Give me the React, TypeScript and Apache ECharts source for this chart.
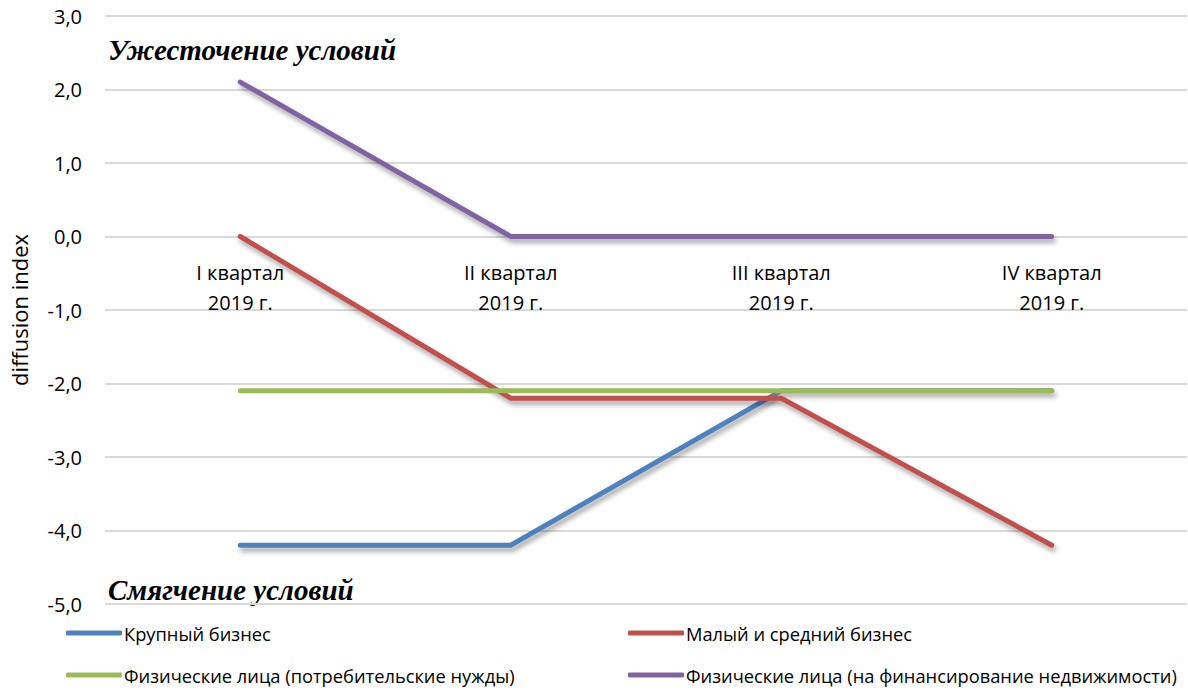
import React, { useEffect, useRef } from "react";
import * as echarts from "echarts";

const categories = ["I квартал\n2019 г.", "II квартал\n2019 г.", "III квартал\n2019 г.", "IV квартал\n2019 г."];
const seriesNames = [
  "Крупный бизнес",
  "Малый и средний бизнес",
  "Физические лица (потребительские нужды)",
  "Физические лица (на финансирование недвижимости)",
];
const largeBusiness = [-4.2, -4.2, -2.1, -2.1];
const smeBusiness = [0, -2.2, -2.2, -4.2];
const consumer = [-2.1, -2.1, -2.1, -2.1];
const realEstate = [2.1, 0, 0, 0];
const colors = ["#4F81BD", "#C0504D", "#9BBB59", "#8064A2"];
const yTicks = { min: -5, max: 3, interval: 1 };

const FONT = "Open Sans";

export default function App() {
  const ref = useRef<HTMLDivElement>(null);
  useEffect(() => {
    const chart = echarts.init(ref.current!, null, { renderer: "svg" });
    const data = [largeBusiness, smeBusiness, consumer, realEstate];
    const legendPos = [
      { left: 66, top: 624 },
      { left: 628, top: 624 },
      { left: 66, top: 666 },
      { left: 628, top: 666 },
    ];
    const gridTop = 16;
    const gridBottom = 86;
    const plotH = 690 - gridTop - gridBottom;
    const zeroFromBottom = plotH * (0 - yTicks.min) / (yTicks.max - yTicks.min);
    chart.setOption({
      animation: false,
      backgroundColor: "#fff",
      grid: { left: 98, right: 1, top: gridTop, bottom: gridBottom },
      legend: seriesNames.map((n, i) => ({
        data: [n],
        left: legendPos[i].left,
        top: legendPos[i].top,
        icon: "roundRect",
        itemWidth: 56,
        itemHeight: 5,
        itemGap: 0,
        textStyle: { fontFamily: FONT, fontSize: 18.3, color: "#000", padding: [0, 0, 0, -3] },
        padding: 0,
      })),
      xAxis: {
        type: "category",
        data: categories,
        boundaryGap: true,
        offset: -zeroFromBottom,
        axisLine: { show: false, onZero: false },
        axisTick: { show: false },
        axisLabel: {
          fontFamily: FONT,
          fontSize: 20,
          color: "#000",
          lineHeight: 30,
          margin: 21,
        },
      },
      yAxis: {
        type: "value",
        min: yTicks.min,
        max: yTicks.max,
        interval: yTicks.interval,
        name: "diffusion index",
        nameLocation: "middle",
        nameGap: 75,
        nameTextStyle: { fontFamily: FONT, fontSize: 22, color: "#000" },
        axisLine: { show: false },
        axisTick: { show: false },
        axisLabel: {
          fontFamily: FONT,
          fontSize: 20,
          color: "#000",
          margin: 23,
          formatter: (v: number) => v.toFixed(1).replace(".", ","),
        },
        splitLine: { lineStyle: { color: "#d9d9d9", width: 2 } },
      },
      series: seriesNames.map((n, i) => ({
        name: n,
        type: "line",
        data: data[i],
        color: colors[i],
        symbol: "none",
        lineStyle: Object.assign(
          {
            width: 5,
            color: colors[i],
            cap: "round",
            join: "miter",
          },
          i === 2
            ? {}
            : {
                shadowColor: "rgba(0,0,0,0.35)",
                shadowBlur: 5,
                shadowOffsetX: 2,
                shadowOffsetY: 4,
              }
        ),
      })),
      graphic: [
        {
          type: "text",
          left: 108,
          top: 35,
          style: {
            text: "Ужесточение условий",
            font: "italic bold 29px 'Liberation Serif'",
            fill: "#000",
          },
        },
        {
          type: "text",
          left: 108,
          top: 575,
          style: {
            text: "Смягчение условий",
            font: "italic bold 29px 'Liberation Serif'",
            fill: "#000",
          },
        },
      ],
    });
    return () => chart.dispose();
  }, []);
  return <div ref={ref} style={{ width: 1188, height: 690, position: "absolute", left: 0, top: 0 }} />;
}
